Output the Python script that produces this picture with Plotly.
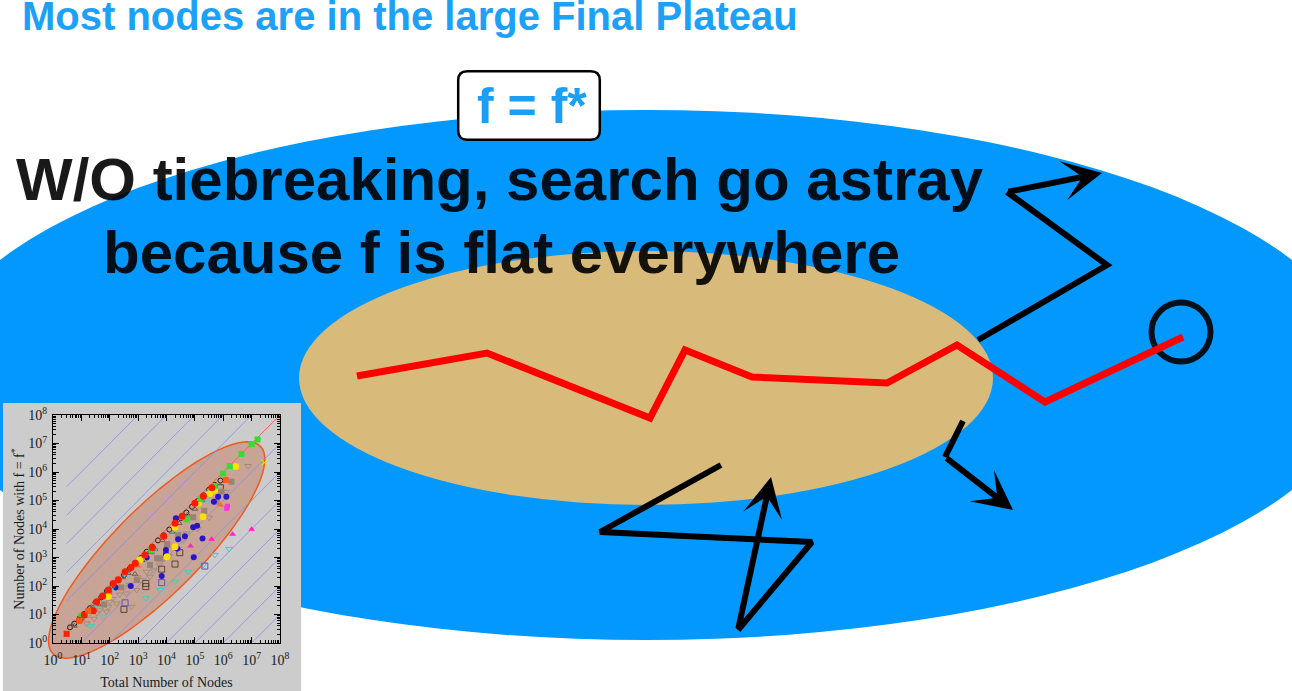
import numpy as np
import plotly.graph_objects as go

W, H = 1292, 691

# --- slide drawing: paths in slide pixel units (y grows downward) ---
red_x = [357, 487, 650, 685, 752, 887, 957, 1045, 1183]
red_y = [376, 353, 418, 350, 377, 383, 345, 402, 337]

# black wandering searches; last point of each is the arrow tip
up_x = [978, 1107, 1007, 1102]
up_y = [340, 265, 192, 173]
down_x = [963, 945, 1013]
down_y = [421, 457, 510]
low_x = [721, 600, 812, 738, 771]
low_y = [465, 532, 542, 630, 477]

# --- inset scatter: log10(total nodes), log10(nodes with f = f*) ---
red_lx = [0.93, 1.42, 1.54, 1.95, 2.12, 2.54, 2.90, 3.24, 3.50, 3.90, 4.30, 4.55, 5.00, 5.30, 5.60, 1.10, 1.75, 2.30, 2.75]
red_ly = [0.80, 1.13, 1.45, 1.86, 2.09, 2.50, 2.80, 3.09, 3.35, 3.75, 4.20, 4.45, 4.90, 5.15, 5.45, 0.98, 1.65, 2.22, 2.65]
redsq_lx = [0.48]
redsq_ly = [0.32]
orange_lx = [0.93, 1.24, 6.09]
orange_ly = [0.78, 1.13, 5.72]
yellow_lx = [1.95, 3.06, 4.30, 6.44, 5.70, 5.53, 5.29, 4.30, 4.02, 5.12]
yellow_ly = [1.63, 2.91, 3.38, 6.19, 5.37, 5.25, 4.43, 4.06, 3.03, 4.90]
green_lx = [7.21, 7.00, 6.64, 6.23, 6.00, 5.70, 4.71, 3.47, 1.00, 2.30, 5.20]
green_ly = [7.14, 6.98, 6.63, 6.21, 5.95, 5.51, 4.34, 3.26, 0.95, 2.20, 5.05]
blue_lx = [2.74, 3.83, 3.98, 4.96, 5.82, 5.67, 4.94, 5.08, 4.65, 4.41, 5.27, 4.38, 3.98, 4.33, 6.11, 3.30, 2.20]
blue_ly = [2.00, 2.35, 3.12, 3.01, 5.13, 4.96, 4.06, 4.11, 3.75, 3.64, 3.67, 3.32, 3.26, 4.38, 5.13, 3.00, 1.95]
graysq_lx = [6.29, 5.94, 5.76, 5.33, 4.94, 4.41, 4.02, 3.77, 3.42, 2.95, 3.67, 4.03, 1.80, 2.40]
graysq_ly = [5.66, 5.31, 4.96, 4.64, 4.41, 3.79, 3.47, 2.97, 2.74, 2.21, 2.97, 3.44, 1.35, 1.95]
brownsq_lx = [2.50, 3.27, 3.27, 4.30, 3.83, 4.47, 5.90]
brownsq_ly = [1.18, 1.98, 2.09, 2.77, 2.59, 3.17, 5.45]
purplesq_lx = [2.54, 3.83, 5.35]
purplesq_ly = [1.41, 2.12, 2.70]
graytri_lx = [2.59, 2.95, 2.24, 1.95, 1.89, 1.19, 1.24, 3.30, 2.77, 3.42, 6.88, 4.71, 1.55, 2.10, 3.00, 3.90, 4.40,
              1.45, 1.65, 2.00, 2.35, 2.50, 2.70, 3.10, 3.55, 3.75, 4.10, 4.60, 5.10, 5.50, 6.10]
graytri_ly = [1.74, 1.86, 1.39, 1.27, 1.10, 0.69, 0.98, 2.50, 1.27, 2.33, 6.21, 3.85, 1.05, 1.55, 2.30, 2.95, 3.30,
              0.85, 1.15, 1.45, 1.70, 1.95, 2.05, 2.20, 2.55, 2.75, 3.05, 3.60, 4.00, 4.40, 5.30]
cyantri_lx = [1.75, 3.27, 3.77, 4.30, 4.77, 5.70, 1.33, 6.21, 5.29]
cyantri_ly = [0.92, 1.57, 1.86, 2.15, 2.50, 3.09, 0.60, 3.30, 2.74]
cyanx_lx = [4.00, 4.30, 3.20, 2.10, 2.60, 3.60, 4.60, 5.40, 1.50]
cyanx_ly = [3.70, 3.95, 2.95, 1.90, 2.40, 3.30, 4.30, 5.00, 1.30]
magenta_lx = [4.85, 5.59, 6.33, 7.00]
magenta_ly = [3.40, 3.64, 3.82, 3.99]
magsq_lx = [6.12, 6.15, 2.00, 3.50]
magsq_ly = [4.73, 4.80, 1.75, 3.20]
orangetri_lx = [5.90, 3.00]
orangetri_ly = [4.84, 2.70]
black_lx = [0.60, 0.75, 0.95, 1.10, 1.30, 1.50, 1.70, 1.90, 2.10, 2.30, 2.50, 2.70, 2.90, 3.10,
            3.30, 3.50, 3.70, 3.90, 4.10, 4.30, 4.50, 4.70, 4.90, 5.10, 5.30, 5.50, 5.70, 5.90]
black_ly = [0.55, 0.68, 0.88, 1.02, 1.22, 1.42, 1.60, 1.82, 2.00, 2.20, 2.38, 2.60, 2.80, 2.98,
            3.20, 3.38, 3.60, 3.78, 3.98, 4.18, 4.38, 4.58, 4.78, 4.98, 5.18, 5.38, 5.55, 5.70]
browntri_lx = [2.89, 1.60, 2.20, 3.60, 4.20, 5.00, 0.75, 1.00, 1.40, 1.85, 2.45, 2.65, 3.15, 3.40, 3.85, 4.45, 4.75, 5.25, 5.45]
browntri_ly = [2.42, 1.35, 2.00, 3.30, 3.90, 4.70, 0.60, 0.85, 1.25, 1.70, 2.30, 2.45, 2.90, 3.20, 3.60, 4.20, 4.50, 5.00, 5.20]
cross_lx = [7.45]
cross_ly = [6.33]

guide_decades = [5, 4, 3, 2, 1, -1, -2, -3, -4, -5, -6, -7]
tick_exp = [0, 1, 2, 3, 4, 5, 6, 7, 8]

fig = go.Figure()

# red path across the plateau
fig.add_trace(go.Scatter(x=red_x, y=red_y, mode='lines',
                         line=dict(color='#ff0000', width=7), hoverinfo='skip'))

# black paths, last segment is drawn by an arrow annotation
arrows = []
for px, py in [(up_x, up_y), (down_x, down_y), (low_x, low_y)]:
    fig.add_trace(go.Scatter(x=px[:-1], y=py[:-1], mode='lines',
                             line=dict(color='black', width=6), hoverinfo='skip'))
    arrows.append(dict(x=px[-1], y=py[-1], ax=px[-2], ay=py[-2],
                       xref='x', yref='y', axref='x', ayref='y', text='',
                       showarrow=True, arrowhead=3, arrowsize=1.1, arrowwidth=6,
                       arrowcolor='black', standoff=0))

# inset guide lines y = x * 10^k
for k in guide_decades:
    fig.add_trace(go.Scatter(x=[3, 1e8], y=[3 * 10.0 ** k, 1e8 * 10.0 ** k], mode='lines',
                             line=dict(color='#8c8ce6', width=0.8),
                             xaxis='x2', yaxis='y2', hoverinfo='skip'))
fig.add_trace(go.Scatter(x=[3, 1e8], y=[3, 1e8], mode='lines',
                         line=dict(color='#ee6a55', width=1),
                         xaxis='x2', yaxis='y2', hoverinfo='skip'))


def pts(lx, ly, symbol, color, size=6, open_=False):
    m = dict(symbol=symbol, size=size, color=color)
    if open_:
        m['line'] = dict(color=color, width=1)
    fig.add_trace(go.Scatter(x=10 ** np.array(lx), y=10 ** np.array(ly), mode='markers',
                             marker=m, xaxis='x2', yaxis='y2', hoverinfo='skip'))


pts(graytri_lx, graytri_ly, 'triangle-down-open', '#a48c7c', 6, True)
pts(cyantri_lx, cyantri_ly, 'triangle-down-open', '#45cbc4', 6, True)
pts(brownsq_lx, brownsq_ly, 'square-open', '#5c4434', 6, True)
pts(purplesq_lx, purplesq_ly, 'square-open', '#6e50c8', 6, True)
pts(black_lx, black_ly, 'circle-open', '#2a1a1a', 5, True)
pts(browntri_lx, browntri_ly, 'triangle-up-open', '#7a5a40', 5, True)
pts(graysq_lx, graysq_ly, 'square', '#9a8274', 6)
pts(blue_lx, blue_ly, 'circle', '#2a14c8', 6)
pts(magenta_lx, magenta_ly, 'triangle-up', '#ff22cc', 6)
pts(magsq_lx, magsq_ly, 'square', '#ff30e0', 5)
pts(cyanx_lx, cyanx_ly, 'x-thin-open', '#40d0d0', 6, True)
pts(yellow_lx, yellow_ly, 'circle', '#ffe000', 7)
pts(orangetri_lx, orangetri_ly, 'triangle-up', '#ff6a1a', 6)
pts(green_lx, green_ly, 'square', '#33dd33', 6)
pts(red_lx, red_ly, 'circle', '#ff1a00', 7)
pts(redsq_lx, redsq_ly, 'square', '#ff2000', 6)
pts(orange_lx, orange_ly, 'square', '#ff5a1a', 6)
pts(cross_lx, cross_ly, 'x-thin-open', '#e8e820', 6, True)

# inset ellipse (tilted 45 deg) in slide pixels
t = np.linspace(0, 2 * np.pi, 91)
ex = 156.7 + 146.7 * np.cos(t) * 0.7071 - 43.3 * np.sin(t) * 0.7071
ey = 550 - 146.7 * np.cos(t) * 0.7071 - 43.3 * np.sin(t) * 0.7071
ell_path = 'M ' + ' L '.join(f'{a:.1f},{b:.1f}' for a, b in zip(ex, ey)) + ' Z'

bx0, by0, bx1, by1, r = 458.2, 71.2, 599.8, 139.8, 9
box_path = (f'M {bx0 + r},{by0} H {bx1 - r} Q {bx1},{by0} {bx1},{by0 + r} '
            f'V {by1 - r} Q {bx1},{by1} {bx1 - r},{by1} H {bx0 + r} '
            f'Q {bx0},{by1} {bx0},{by1 - r} V {by0 + r} Q {bx0},{by0} {bx0 + r},{by0} Z')

shapes = [
    dict(type='circle', xref='x', yref='y', x0=646 - 717, x1=646 + 717, y0=375 - 265, y1=375 + 265,
         fillcolor='#0398fe', line=dict(width=0), layer='below'),
    dict(type='circle', xref='x', yref='y', x0=646 - 347, x1=646 + 347, y0=378 - 127, y1=378 + 127,
         fillcolor='#d8ba7a', line=dict(width=0), layer='below'),
    dict(type='circle', xref='x', yref='y', x0=1181 - 29.5, x1=1181 + 29.5, y0=332 - 29.5, y1=332 + 29.5,
         line=dict(color='#02111b', width=6), layer='below'),
    dict(type='path', xref='x', yref='y', path=box_path, fillcolor='white',
         line=dict(color='black', width=2.5), layer='below'),
    dict(type='rect', xref='x', yref='y', x0=3, x1=301, y0=403, y1=H,
         fillcolor='#cccccc', line=dict(width=0), layer='below'),
    dict(type='path', xref='x', yref='y', path=ell_path, fillcolor='rgba(190,90,50,0.35)',
         line=dict(color='#f05a1e', width=1.5), layer='below'),
]

annotations = arrows + [
    dict(text='<b>Most nodes are in the large Final Plateau</b>', x=20, y=16.2, xref='x', yref='y',
         xanchor='left', yanchor='middle', showarrow=False,
         font=dict(family='Liberation Sans', size=40, color='#1da1f7')),
    dict(text='<b>f = f*</b>', x=532, y=105.7, xref='x', yref='y',
         xanchor='center', yanchor='middle', showarrow=False,
         font=dict(family='Liberation Sans', size=50, color='#1a9ff5')),
    dict(text='<b>W/O tiebreaking, search go astray</b>', x=500, y=179.2, xref='x', yref='y',
         xanchor='center', yanchor='middle', showarrow=False,
         font=dict(family='Liberation Sans', size=60, color='rgba(0,0,0,0.9)')),
    dict(text='<b>because f is flat everywhere</b>', x=501, y=252.2, xref='x', yref='y',
         xanchor='center', yanchor='middle', showarrow=False,
         font=dict(family='Liberation Sans', size=60, color='rgba(0,0,0,0.9)')),
]

tick_vals = [10.0 ** e for e in tick_exp]
tick_text = [f'10<sup>{e}</sup>' for e in tick_exp]
minor_vals = [m * 10.0 ** e for e in tick_exp[:-1] for m in range(2, 10)]
serif = dict(family='Liberation Serif', size=14, color='#1a1a1a')

inset_axis = dict(type='log', range=[0, 8], showline=True, linecolor='black', linewidth=1,
                  mirror='ticks', ticks='inside', ticklen=6, tickcolor='black',
                  tickmode='array', tickvals=tick_vals, ticktext=tick_text, tickfont=serif,
                  showgrid=False, zeroline=False, automargin=False,
                  minor=dict(tickmode='array', tickvals=minor_vals, ticks='inside', ticklen=3,
                             tickcolor='black', showgrid=False))

fig.update_layout(
    width=W, height=H, margin=dict(l=0, r=0, t=0, b=0, pad=0), autosize=False,
    paper_bgcolor='white', plot_bgcolor='rgba(0,0,0,0)', showlegend=False,
    xaxis=dict(range=[0, W], visible=False, domain=[0, 1], automargin=False),
    yaxis=dict(range=[H, 0], visible=False, domain=[0, 1], automargin=False),
    xaxis2=dict(inset_axis, domain=[53 / W, 280 / W], anchor='y2', ticklabelstandoff=4,
                title=dict(text='Total Number of Nodes', font=serif, standoff=10)),
    yaxis2=dict(inset_axis, domain=[1 - 643 / H, 1 - 415 / H], anchor='x2', ticklabelstandoff=2,
                title=dict(text='Number of Nodes with f = f<sup>*</sup>', font=serif, standoff=0)),
    shapes=shapes, annotations=annotations,
)

fig.write_html("out.html", config={'displayModeBar': False},
               post_script="document.body.style.margin='0';document.body.style.overflow='hidden';")
